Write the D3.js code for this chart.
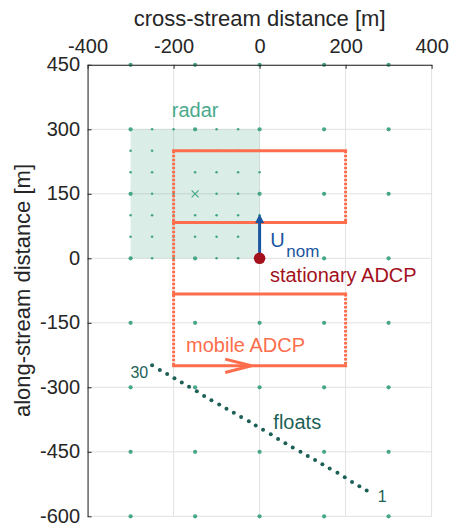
<!DOCTYPE html>
<html>
<head>
<meta charset="utf-8">
<script src="https://cdn.jsdelivr.net/npm/d3@7"></script>
<style>
  body { margin: 0; background: #fff; }
  text { font-family: "Liberation Sans", Arial, sans-serif; }
</style>
</head>
<body>
<div id="chart"></div>
<script>
// tick values
const xTicks = [-400, -200, 0, 200, 400];
const yTicks = [450, 300, 150, 0, -150, -300, -450, -600];

// coarse sampling grid (150 m)
const gridX = [-300, -150, 0, 150, 300];
const gridY = [450, 300, 150, 0, -150, -300, -450, -600];

// radar footprint and its 50 m grid
const radarX = [-300, -250, -200, -150, -100, -50, 0];
const radarY = [0, 50, 100, 150, 200, 250, 300];
const radarCenter = [-150, 150];

// mobile ADCP transects
const transectY = [250, 83, -83, -250];
const transectX = [-200, 200];

// stationary ADCP and nominal flow
const stationary = [0, 0];
const uNomTip = [0, 103];

// floats 1..30
const floatX = [249, 232, 215, 198, 181, 163, 146, 129, 112, 95, 77, 60, 43, 26, 8,
  -9, -25, -43, -60, -77, -94, -112, -129, -146, -164, -181, -198, -215, -232, -250];
const floatY = [-540, -530, -520, -509, -499, -489, -479, -469, -460, -450, -440, -430, -420, -409, -399,
  -389, -379, -369, -359, -350, -340, -330, -320, -309, -299, -289, -279, -269, -260, -249];

const W = 449, H = 524;
const margin = { top: 64.8, left: 87.6 };
const width = 344, height = 451.5;

const svg = d3.select("#chart").append("svg")
  .attr("width", W)
  .attr("height", H);

const x = d3.scaleLinear().domain([-400, 400]).range([margin.left, margin.left + width]);
const y = d3.scaleLinear().domain([-600, 450]).range([margin.top + height, margin.top]);

const green = "#46a688", orange = "#fe6d4c", teal = "#1c5f56",
  darkred = "#a3111c", blue = "#1b55a0", axisCol = "#262626";

// grid lines
svg.append("g").selectAll("line").data(xTicks).join("line")
  .attr("x1", d => x(d)).attr("x2", d => x(d))
  .attr("y1", y(450)).attr("y2", y(-600))
  .attr("stroke", "#e2e2e2").attr("stroke-width", 1);
svg.append("g").selectAll("line").data(yTicks).join("line")
  .attr("x1", x(-400)).attr("x2", x(400))
  .attr("y1", d => y(d)).attr("y2", d => y(d))
  .attr("stroke", "#e2e2e2").attr("stroke-width", 1);

// radar shading
svg.append("rect")
  .attr("x", x(d3.min(radarX))).attr("y", y(d3.max(radarY)))
  .attr("width", x(d3.max(radarX)) - x(d3.min(radarX)))
  .attr("height", y(d3.min(radarY)) - y(d3.max(radarY)))
  .attr("fill", green).attr("fill-opacity", 0.2);

// radar points (small)
const radarPts = d3.cross(radarX, radarY)
  .filter(d => !(d[0] === radarCenter[0] && d[1] === radarCenter[1]));
svg.append("g").selectAll("circle").data(radarPts).join("circle")
  .attr("cx", d => x(d[0])).attr("cy", d => y(d[1]))
  .attr("r", 1.3).attr("fill", green);

// coarse grid points
const gridPts = d3.cross(gridX, gridY)
  .filter(d => !(d[0] === radarCenter[0] && d[1] === radarCenter[1]));
svg.append("g").selectAll("circle").data(gridPts).join("circle")
  .attr("cx", d => x(d[0])).attr("cy", d => y(d[1]))
  .attr("r", 2.1).attr("fill", green);

// radar centre marker
const cx0 = x(radarCenter[0]), cy0 = y(radarCenter[1]);
svg.append("path")
  .attr("d", `M${cx0 - 3.5},${cy0 - 3.5}L${cx0 + 3.5},${cy0 + 3.5}M${cx0 - 3.5},${cy0 + 3.5}L${cx0 + 3.5},${cy0 - 3.5}`)
  .attr("stroke", green).attr("stroke-width", 1.2);

// mobile ADCP: dotted turns
const turns = [
  [transectX[0], transectY[0], transectX[0], transectY[3]],
  [transectX[1], transectY[0], transectX[1], transectY[1]],
  [transectX[1], transectY[2], transectX[1], transectY[3]]
];
svg.append("g").selectAll("line").data(turns).join("line")
  .attr("x1", d => x(d[0])).attr("y1", d => y(d[1]))
  .attr("x2", d => x(d[2])).attr("y2", d => y(d[3]))
  .attr("stroke", orange).attr("stroke-width", 3)
  .attr("stroke-dasharray", "2.4,1.6");

// mobile ADCP: solid transects
svg.append("g").selectAll("line").data(transectY).join("line")
  .attr("x1", x(transectX[0]) - 1.5).attr("x2", x(transectX[1]) + 1.5)
  .attr("y1", d => y(d)).attr("y2", d => y(d))
  .attr("stroke", orange).attr("stroke-width", 3);

// direction chevron on the last transect
const ay = y(transectY[3]);
svg.append("path")
  .attr("d", `M${x(-80)},${ay - 6.7}L${x(-19)},${ay}L${x(-80)},${ay + 6.7}`)
  .attr("fill", "none").attr("stroke", orange).attr("stroke-width", 3)
  .attr("stroke-linejoin", "miter");

// floats
svg.append("g").selectAll("circle").data(floatX).join("circle")
  .attr("cx", d => x(d)).attr("cy", (d, i) => y(floatY[i]))
  .attr("r", 2).attr("fill", teal);

// U_nom arrow
const sx = x(stationary[0]), sy = y(stationary[1]);
const tx = x(uNomTip[0]), ty = y(uNomTip[1]);
svg.append("line")
  .attr("x1", sx).attr("y1", sy).attr("x2", tx).attr("y2", ty + 6)
  .attr("stroke", blue).attr("stroke-width", 3);
svg.append("path")
  .attr("d", `M${tx},${ty}L${tx + 4.5},${ty + 9}L${tx - 4.5},${ty + 9}Z`)
  .attr("fill", blue);

// stationary ADCP
svg.append("circle")
  .attr("cx", sx).attr("cy", sy).attr("r", 5.8).attr("fill", darkred);

// labels
svg.append("text").attr("x", x(-150)).attr("y", y(329))
  .attr("text-anchor", "middle").attr("font-size", 20).attr("fill", "#4aa98b")
  .text("radar");
svg.append("text").attr("x", x(-171)).attr("y", y(-217))
  .attr("font-size", 20).attr("fill", orange)
  .text("mobile ADCP");
svg.append("text").attr("x", x(24)).attr("y", y(-54))
  .attr("font-size", 20).attr("fill", darkred)
  .text("stationary ADCP");
const u = svg.append("text").attr("x", x(25)).attr("y", y(27))
  .attr("font-size", 20).attr("fill", blue);
u.append("tspan").text("U");
u.append("tspan").attr("dx", 1.5).attr("dy", 10).attr("font-size", 17).text("nom");
svg.append("text").attr("x", x(32)).attr("y", y(-396))
  .attr("font-size", 20).attr("fill", teal)
  .text("floats");
svg.append("text").attr("x", x(-259)).attr("y", y(-279))
  .attr("text-anchor", "end").attr("font-size", 16).attr("fill", teal)
  .text("30");
svg.append("text").attr("x", x(275)).attr("y", y(-566))
  .attr("font-size", 16).attr("fill", teal)
  .text("1");

// axes
const fmt = d => String(d);
const xAxis = svg.append("g")
  .attr("transform", `translate(0,${margin.top})`)
  .call(d3.axisTop(x).tickValues(xTicks).tickFormat(fmt).tickSize(-4).tickSizeOuter(0).tickPadding(11.5));
const yAxis = svg.append("g")
  .attr("transform", `translate(${margin.left},0)`)
  .call(d3.axisLeft(y).tickValues(yTicks).tickFormat(fmt).tickSize(-4).tickSizeOuter(0).tickPadding(7.6));
[xAxis, yAxis].forEach(a => {
  a.select(".domain").attr("stroke", axisCol);
  a.selectAll(".tick line").attr("stroke", axisCol);
  a.selectAll(".tick text").attr("fill", axisCol).attr("font-size", 20)
    .style("font-family", '"Liberation Sans", Arial, sans-serif');
});
yAxis.selectAll(".tick text").attr("dy", "0.3em");

// axis titles
svg.append("text")
  .attr("x", x(0)).attr("y", 26)
  .attr("text-anchor", "middle").attr("font-size", 22).attr("fill", axisCol)
  .text("cross-stream distance [m]");
svg.append("text")
  .attr("transform", `translate(30,${(y(450) + y(-600)) / 2}) rotate(-90)`)
  .attr("text-anchor", "middle").attr("font-size", 22).attr("fill", axisCol)
  .text("along-stream distance [m]");
</script>
</body>
</html>
